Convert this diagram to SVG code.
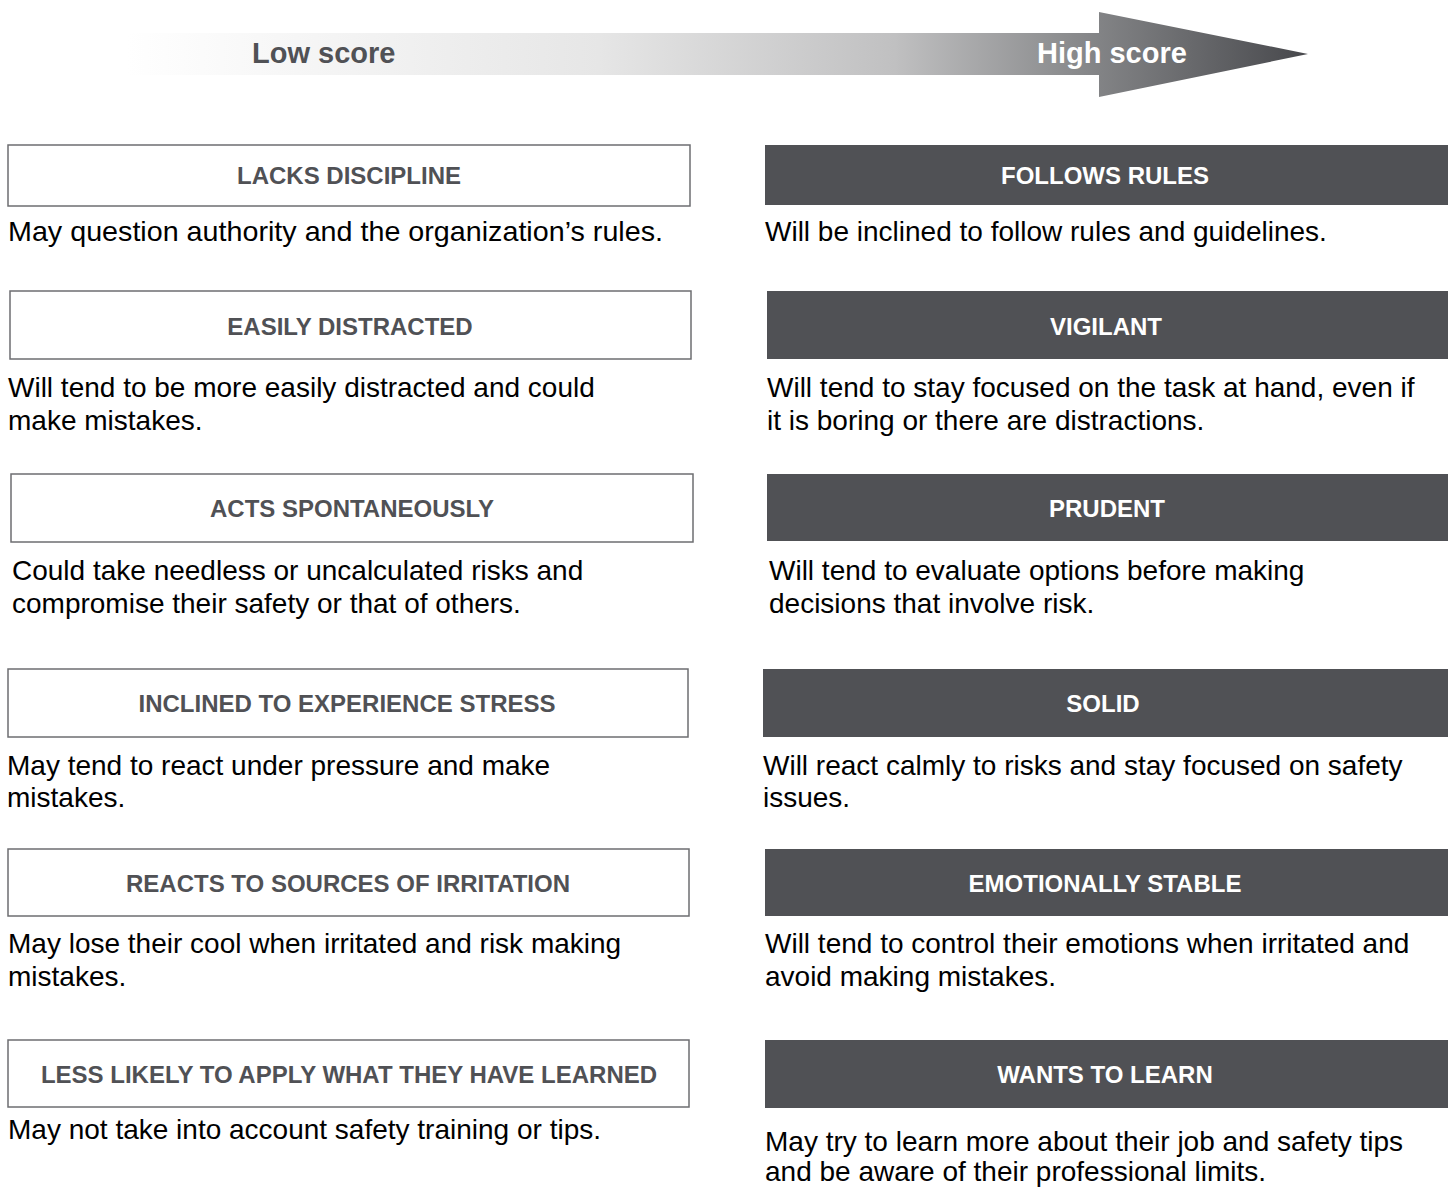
<svg xmlns="http://www.w3.org/2000/svg" width="1453" height="1188" viewBox="0 0 1453 1188">
<defs>
<linearGradient id="g" x1="127" y1="0" x2="1308" y2="0" gradientUnits="userSpaceOnUse">
<stop offset="0" stop-color="#ffffff"/>
<stop offset="0.4" stop-color="#e6e6e6"/>
<stop offset="0.65" stop-color="#c0c0c1"/>
<stop offset="0.8" stop-color="#8a8b8d"/>
<stop offset="1" stop-color="#47484c"/>
</linearGradient>
<style>
.lb{fill:#ffffff;stroke:#6d6e71;stroke-width:1.5}
.db{fill:#505155}
.lh{font-family:"Liberation Sans",Arial,sans-serif;font-weight:bold;font-size:24px;fill:#505155;text-anchor:middle}
.dh{font-family:"Liberation Sans",Arial,sans-serif;font-weight:bold;font-size:24px;fill:#ffffff;text-anchor:middle}
.d{font-family:"Liberation Sans",Arial,sans-serif;font-size:28px;fill:#000000}
.sc{font-family:"Liberation Sans",Arial,sans-serif;font-weight:bold;font-size:29px}
</style>
</defs>
<g id="arrow">
<path d="M127,33 H1099 V12 L1308,54 L1099,97 V75 H127 Z" fill="url(#g)"/>
<text class="sc" x="252" y="63" fill="#505155">Low score</text>
<text class="sc" x="1037" y="63" fill="#ffffff">High score</text>
</g>
<g id="connectors"/>
<g id="low1"><rect class="lb" x="8" y="145" width="682" height="61"/><text class="lh" x="349" y="184">LACKS DISCIPLINE</text><text class="d" x="8" y="241" textLength="655" lengthAdjust="spacingAndGlyphs">May question authority and the organization’s rules.</text></g>
<g id="low2"><rect class="lb" x="10" y="291" width="681" height="68"/><text class="lh" x="350" y="335">EASILY DISTRACTED</text><text class="d" x="8" y="397">Will tend to be more easily distracted and could</text><text class="d" x="8" y="430">make mistakes.</text></g>
<g id="low3"><rect class="lb" x="11" y="474" width="682" height="68"/><text class="lh" x="352" y="517">ACTS SPONTANEOUSLY</text><text class="d" x="12" y="580">Could take needless or uncalculated risks and</text><text class="d" x="12" y="613">compromise their safety or that of others.</text></g>
<g id="low4"><rect class="lb" x="8" y="669" width="680" height="68"/><text class="lh" x="347" y="712">INCLINED TO EXPERIENCE STRESS</text><text class="d" x="7" y="775">May tend to react under pressure and make</text><text class="d" x="7" y="807">mistakes.</text></g>
<g id="low5"><rect class="lb" x="8" y="849" width="681" height="67"/><text class="lh" x="348" y="892">REACTS TO SOURCES OF IRRITATION</text><text class="d" x="8" y="953">May lose their cool when irritated and risk making</text><text class="d" x="8" y="986">mistakes.</text></g>
<g id="low6"><rect class="lb" x="8" y="1040" width="681" height="67"/><text class="lh" x="349" y="1083">LESS LIKELY TO APPLY WHAT THEY HAVE LEARNED</text><text class="d" x="8" y="1139">May not take into account safety training or tips.</text></g>
<g id="high1"><rect class="db" x="765" y="145" width="683" height="60"/><text class="dh" x="1105" y="184">FOLLOWS RULES</text><text class="d" x="765" y="241">Will be inclined to follow rules and guidelines.</text></g>
<g id="high2"><rect class="db" x="767" y="291" width="681" height="68"/><text class="dh" x="1106" y="335">VIGILANT</text><text class="d" x="767" y="397">Will tend to stay focused on the task at hand, even if</text><text class="d" x="767" y="430">it is boring or there are distractions.</text></g>
<g id="high3"><rect class="db" x="767" y="474" width="681" height="67"/><text class="dh" x="1107" y="517">PRUDENT</text><text class="d" x="769" y="580">Will tend to evaluate options before making</text><text class="d" x="769" y="613">decisions that involve risk.</text></g>
<g id="high4"><rect class="db" x="763" y="669" width="685" height="68"/><text class="dh" x="1103" y="712">SOLID</text><text class="d" x="763" y="775">Will react calmly to risks and stay focused on safety</text><text class="d" x="763" y="807">issues.</text></g>
<g id="high5"><rect class="db" x="765" y="849" width="683" height="67"/><text class="dh" x="1105" y="892">EMOTIONALLY STABLE</text><text class="d" x="765" y="953">Will tend to control their emotions when irritated and</text><text class="d" x="765" y="986">avoid making mistakes.</text></g>
<g id="high6"><rect class="db" x="765" y="1040" width="683" height="68"/><text class="dh" x="1105" y="1083">WANTS TO LEARN</text><text class="d" x="765" y="1151">May try to learn more about their job and safety tips</text><text class="d" x="765" y="1181">and be aware of their professional limits.</text></g>
</svg>
